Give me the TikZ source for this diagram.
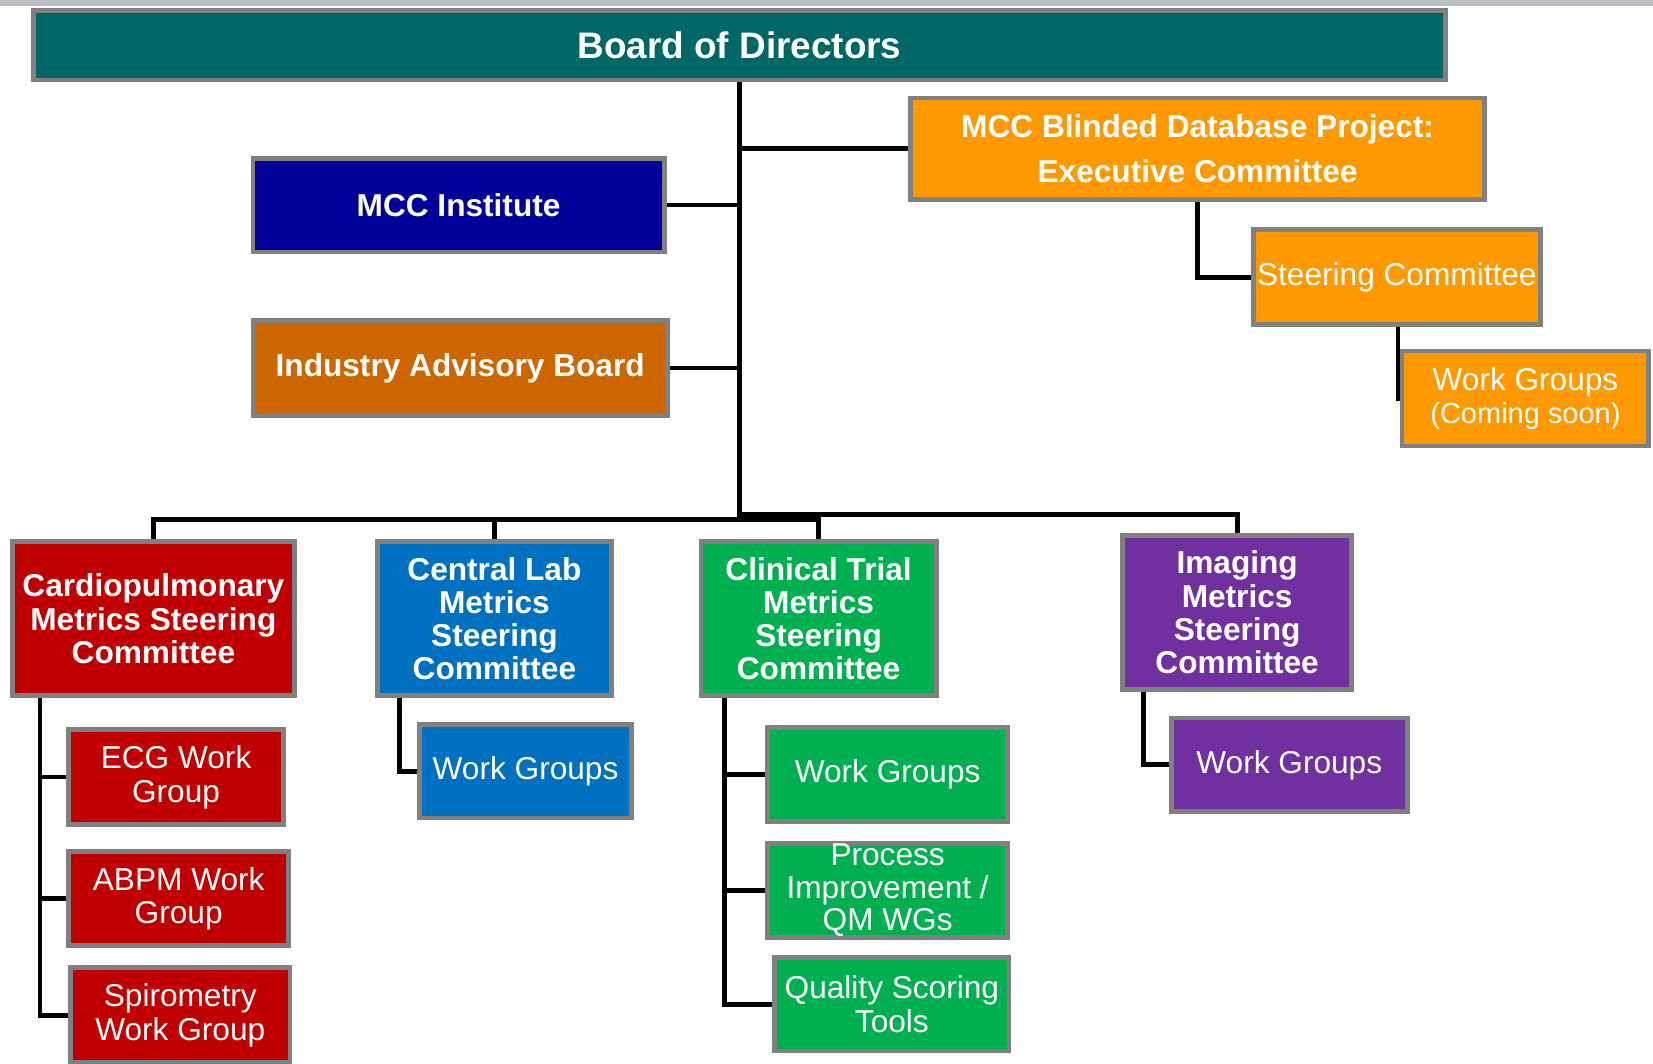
\documentclass[tikz,border=0pt]{standalone}
\usepackage{fontspec}
\setmainfont{Liberation Sans}
\usepackage{tikz}
\usetikzlibrary{positioning}

\definecolor{boxgray}{HTML}{808080}
\definecolor{topgray}{HTML}{BDBDC4}
\definecolor{boardteal}{HTML}{006666}
\definecolor{mccorange}{HTML}{FF9900}
\definecolor{mccnavy}{HTML}{000099}
\definecolor{advbrown}{HTML}{CC6600}
\definecolor{cardred}{HTML}{C00000}
\definecolor{labblue}{HTML}{0070C0}
\definecolor{clingreen}{HTML}{00B050}
\definecolor{imgpurple}{HTML}{7030A0}

\begin{document}
\begin{tikzpicture}
                [x=1pt, y=-1pt,
                 box/.style = {draw=boxgray, line width=4.5pt, text=white, align=center, inner sep=0pt},
                 boxsize/.style 2 args = {minimum width=#1pt, minimum height=#2pt},
                 head/.style = {font=\bfseries\fontsize{30}{31.5}\selectfont},
                 sub/.style = {font=\fontsize{30}{32}\selectfont},
                 link/.style = {line width=4.5pt}]

                \useasboundingbox (0,0) rectangle (1568,1009);
                \fill[topgray] (0,0) rectangle (1568,6);

                % top level
                \node[box, fill=boardteal, boxsize={1339}{66}, font=\bfseries\fontsize{35}{38}\selectfont] (board) at (701.5,43) {Board of Directors};
                \node[box, fill=mccorange, boxsize={544}{96}, font=\bfseries\fontsize{30}{43}\selectfont] (blind) at (1136,141) {MCC Blinded Database Project:\\Executive Committee};
                \node[box, fill=mccnavy, boxsize={390}{89}, head] (inst) at (435,194.5) {MCC Institute};
                \node[box, fill=advbrown, boxsize={393}{90}, head] (ind) at (436.5,349) {Industry Advisory Board};
                \node[box, fill=mccorange, boxsize={272}{90}, sub] (steer) at (1325,263) {Steering Committee};
                \node[box, fill=mccorange, boxsize={234}{90}, sub] (soon) at (1447,378) {Work Groups\\{\fontsize{27.5}{30}\selectfont (Coming soon)}};

                % steering committees
                \node[box, fill=cardred, boxsize={267}{146}, head] (cardio) at (145.5,587) {Cardiopulmonary\\Metrics Steering\\Committee};
                \node[box, fill=labblue, boxsize={222}{146}, head] (lab) at (469,587) {Central Lab\\Metrics\\Steering\\Committee};
                \node[box, fill=clingreen, boxsize={223}{146}, head] (clin) at (776.5,587) {Clinical Trial\\Metrics\\Steering\\Committee};
                \node[box, fill=imgpurple, boxsize={217}{146}, head] (img) at (1173.5,581) {Imaging\\Metrics\\Steering\\Committee};

                % work groups
                \node[box, fill=cardred, boxsize={204}{90}, sub] (ecg) at (167,737) {ECG Work\\Group};
                \node[box, fill=cardred, boxsize={209}{89}, sub] (abpm) at (169.5,852.5) {ABPM Work\\Group};
                \node[box, fill=cardred, boxsize={208}{90}, sub] (spiro) at (171,963) {Spirometry\\Work Group};
                \node[box, fill=labblue, boxsize={201}{89}, sub] (labwg) at (498.5,731.5) {Work Groups};
                \node[box, fill=clingreen, boxsize={228}{89}, sub] (clinwg) at (842,734.5) {Work Groups};
                \node[box, fill=clingreen, boxsize={228}{89}, font=\fontsize{30}{31}\selectfont] (proc) at (842,844.5) {Process\\Improvement /\\QM WGs};
                \node[box, fill=clingreen, boxsize={222}{89}, sub] (qual) at (846,952.5) {Quality Scoring\\Tools};
                \node[box, fill=imgpurple, boxsize={224}{89}, sub] (imgwg) at (1223,725.5) {Work Groups};

                \coordinate (hub) at (701.5,493);
                \coordinate (hubr) at (701.5,488);
                \coordinate (steerdrop) at (1326,310);
                \coordinate (cardiorail) at (38,662);
                \coordinate (labrail) at (379,662);
                \coordinate (clinrail) at (687,662);
                \coordinate (imgrail) at (1085,656);

                \draw[link, line width=5.5pt] (board.south) -- (hub);
                \draw[link] (blind.west) -- (blind.west -| hub);
                \draw[link] (inst.east) -- (inst.east -| hub);
                \draw[link] (ind.east) -- (ind.east -| hub);
                \draw[link] (cardio.north) |- (hub) -| (clin.north);
                \draw[link] (lab.north) -- (lab.north |- hub);
                \draw[link] (hubr) -| (img.north);
                \draw[link] (blind.south) |- (steer.west);
                \draw[link] (steerdrop) |- (soon.west);

                \draw[link] (cardiorail) |- (spiro.west);
                \draw[link] (ecg.west) -- (ecg.west -| cardiorail);
                \draw[link] (abpm.west) -- (abpm.west -| cardiorail);
                \draw[link] (labrail) |- (labwg.west);
                \draw[link] (clinrail) |- (qual.west);
                \draw[link] (clinwg.west) -- (clinwg.west -| clinrail);
                \draw[link] (proc.west) -- (proc.west -| clinrail);
                \draw[link] (imgrail) |- (imgwg.west);

            \end{tikzpicture}
\end{document}
